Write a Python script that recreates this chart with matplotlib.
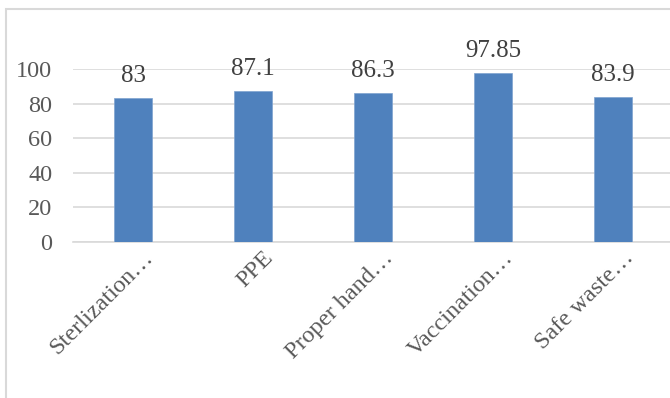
import matplotlib.pyplot as plt
from matplotlib.patches import Rectangle
import matplotlib.transforms as mtransforms

categories = ['Sterlization…', 'PPE', 'Proper hand…', 'Vaccination…', 'Safe waste…']
values = [83, 87.1, 86.3, 97.85, 83.9]
y_ticks = [0, 20, 40, 60, 80, 100]

plt.rcParams['font.family'] = ['Liberation Serif', 'DejaVu Serif']

fig = plt.figure(figsize=(6.7, 3.98), dpi=100)
ax = fig.add_axes([73/670, 1 - 241.7/398, 600/670, 172.7/398])

x = range(len(categories))
ax.bar(x, values, width=0.32, color='#4F81BD', edgecolor='#7FA3D0', linewidth=0.5, zorder=3)

for i, v in zip(x, values):
    ax.annotate(f'{v:g}', (i, v), xytext=(0, 8), textcoords='offset points',
                ha='center', va='bottom', fontsize=18, color='#404040',
                annotation_clip=False)

ax.set_xlim(-0.5, len(categories) - 0.5)
ax.set_ylim(0, 100)
ax.set_yticks(y_ticks)
ax.yaxis.grid(True, color='#D9D9D9', linewidth=1.2, zorder=0)
ax.tick_params(axis='y', length=0, pad=15, labelsize=17.5, labelcolor='#595959')
ax.tick_params(axis='x', length=0, pad=4, labelsize=17.5, labelcolor='#595959')
ax.set_xticks(list(x))
ax.set_xticklabels(categories, rotation=45, ha='right', rotation_mode='anchor')
# shift the rotated labels so their ends sit just right of each bar
offset = mtransforms.ScaledTranslation(10/100, 0, fig.dpi_scale_trans)
for lbl in ax.get_xticklabels():
    lbl.set_transform(lbl.get_transform() + offset)

for s in ax.spines.values():
    s.set_visible(False)
ax.spines['bottom'].set_visible(True)
ax.spines['bottom'].set_color('#D9D9D9')
ax.spines['bottom'].set_linewidth(1.2)

# chart border (cut off on the right and bottom in the original)
fig.patches.append(Rectangle((6/670, -0.1), 1.1, 1.1 - 9/398, transform=fig.transFigure,
                             fill=False, edgecolor='#D9D9D9', linewidth=1.5))

fig.savefig('out.png', dpi=100)
